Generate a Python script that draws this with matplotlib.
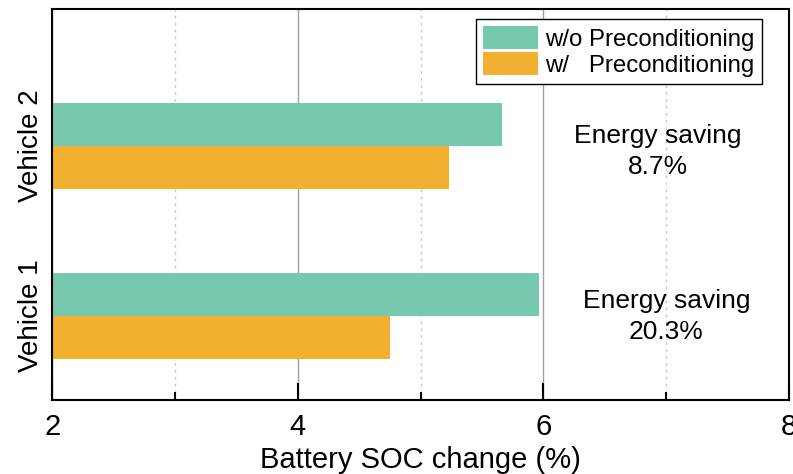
import numpy as np
import matplotlib.pyplot as plt
from matplotlib.ticker import MultipleLocator

plt.rcParams['font.family'] = ['Liberation Sans', 'DejaVu Sans']

vehicles = ['Vehicle 1', 'Vehicle 2']
soc_without = [5.96, 5.66]  # battery SOC change w/o preconditioning [%]
soc_with = [4.75, 5.23]  # battery SOC change w/ preconditioning [%]
savings = ['20.3%', '8.7%']  # energy saving labels

c_without = '#76C8AE'
c_with = '#F2B030'

fig = plt.figure(figsize=(7.93, 4.74), dpi=100)
ax = fig.add_axes([0.066, 0.156, 0.929, 0.825])

y = np.arange(len(vehicles))
h = 0.255
ax.barh(y + h / 2, soc_without, height=h, color=c_without, label='w/o Preconditioning', zorder=2)
ax.barh(y - h / 2, soc_with, height=h, color=c_with, label='w/   Preconditioning', zorder=2)

ax.set_xlim(2, 8)
ax.set_ylim(-0.495, 1.805)
ax.xaxis.set_major_locator(MultipleLocator(2))
ax.xaxis.set_minor_locator(MultipleLocator(1))
ax.set_yticks(y)
ax.set_yticklabels(vehicles, rotation=90, va='center')

# solid grid on major ticks, dotted on minor
ax.grid(axis='x', which='major', color='#a0a0a0', lw=1.0, zorder=0)
ax.grid(axis='x', which='minor', color='#c8c8c8', lw=1.0, ls=(0, (2, 3)), zorder=0)

ax.tick_params(axis='x', which='major', direction='in', length=12, width=1.5, labelsize=21, pad=9)
ax.tick_params(axis='x', which='minor', direction='in', length=6, width=1.5)
ax.tick_params(axis='y', direction='in', length=12, width=1.5, labelsize=20, pad=6)
for s in ax.spines.values():
    s.set_linewidth(1.5)

ax.set_xlabel('Battery SOC change (%)', fontsize=21, labelpad=4)

for yi, txt, xt in zip(y, savings, [7.0, 6.93]):
    yc = yi - 0.005 if yi == 0 else yi - 0.035
    ax.text(xt, yc, 'Energy saving\n' + txt, ha='center', va='center', fontsize=19, linespacing=1.38)

leg = ax.legend(loc='upper right', bbox_to_anchor=(0.963, 0.975), fontsize=17.3,
                handlelength=2.3, handleheight=1.1, handletextpad=0.3, labelspacing=0.05,
                borderpad=0.3, borderaxespad=0.0, fancybox=False, framealpha=1)
leg.get_frame().set_edgecolor('black')
leg.get_frame().set_linewidth(1.0)

fig.savefig('out.png', dpi=100)
